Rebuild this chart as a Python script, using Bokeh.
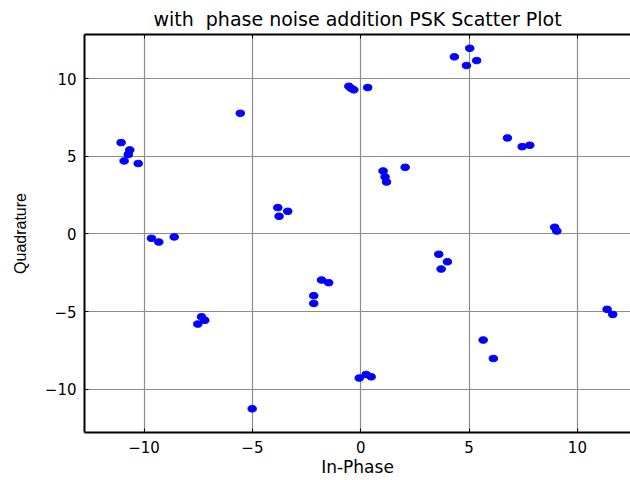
from bokeh.plotting import figure
from bokeh.models import LinearAxis, Range1d, FixedTicker, ColumnDataSource, CustomJSTickFormatter
from bokeh.embed import file_html
from bokeh.resources import INLINE

title_text = "with\u00a0 phase noise addition PSK Scatter Plot"
x_label = "In-Phase"
y_label = "Quadrature"
x_ticks = [-10, -5, 0, 5, 10]
y_ticks = [-10, -5, 0, 5, 10]

in_phase = [-5.56, -11.06, -10.66, -10.73, -10.92, -10.27, -3.83, -3.37, -3.77,
            -9.66, -9.32, -8.61, -1.81, -1.48, -2.17, -2.17, -7.35, -7.20, -7.52,
            -5.01, 5.03, 4.32, 5.35, 4.88, -0.55, -0.45, -0.32, 0.32, 6.77, 7.45,
            7.80, 1.03, 1.12, 1.19, 2.05, 8.95, 9.05, 3.60, 4.00, 3.71, 11.37,
            11.63, 5.65, 6.12, -0.07, 0.25, 0.48]
quadrature = [7.78, 5.89, 5.42, 5.12, 4.71, 4.54, 1.70, 1.46, 1.14,
              -0.28, -0.52, -0.19, -2.97, -3.14, -3.98, -4.48, -5.34, -5.57, -5.81,
              -11.27, 11.97, 11.42, 11.18, 10.86, 9.52, 9.40, 9.29, 9.44, 6.19, 5.63,
              5.72, 4.06, 3.68, 3.35, 4.30, 0.43, 0.19, -1.31, -1.79, -2.26, -4.86,
              -5.19, -6.84, -8.03, -9.29, -9.06, -9.21]

WIDE = "DejaVu Sans"
ARIAL = "Liberation Sans"

p = figure(width=630, height=480, output_backend="svg", toolbar_location=None,
           x_range=Range1d(-12.75, 12.45), y_range=Range1d(-12.8, 12.86),
           min_border_left=84, min_border_right=0, min_border_top=34,
           min_border_bottom=48, title=title_text, x_axis_label=x_label,
           y_axis_label=y_label)

p.title.text_font = WIDE
p.title.text_font_size = "19px"
p.title.text_font_style = "normal"
p.title.align = "center"
p.title.text_color = "black"

src = ColumnDataSource(dict(x=in_phase, y=quadrature))
p.ellipse(x="x", y="y", width=8.5, height=6.5, width_units="screen", height_units="screen",
          source=src, fill_color="#0000ff", line_color="#0000ff")

for ax in p.xaxis + p.yaxis:
    ax.major_label_text_font = WIDE
    ax.major_label_text_font_size = "15px"
    ax.major_label_text_color = "black"
    ax.axis_label_text_font_style = "normal"
    ax.axis_label_text_color = "black"
    ax.axis_line_color = "black"
    ax.axis_line_width = 2
    ax.major_tick_in = 4
    ax.major_tick_out = 0
    ax.major_tick_line_color = "black"
    ax.minor_tick_line_color = None

p.xaxis.axis_label_text_font = WIDE
p.xaxis.axis_label_text_font_size = "17px"
p.yaxis.axis_label_text_font = ARIAL
p.yaxis.axis_label_text_font_size = "16px"

p.xaxis.ticker = FixedTicker(ticks=x_ticks)
p.yaxis.ticker = FixedTicker(ticks=y_ticks)
p.xaxis.major_label_standoff = 8
p.xaxis.axis_label_standoff = 1
p.yaxis.major_label_standoff = 8
p.yaxis.axis_label_standoff = 13

top = LinearAxis(ticker=FixedTicker(ticks=x_ticks),
                 formatter=CustomJSTickFormatter(code="return ''"),
                 major_label_standoff=0, major_tick_in=4, major_tick_out=0,
                 axis_line_color="black", axis_line_width=2, minor_tick_line_color=None)
p.add_layout(top, "above")

p.xgrid.ticker = FixedTicker(ticks=x_ticks)
p.ygrid.ticker = FixedTicker(ticks=y_ticks)
for g in (p.xgrid, p.ygrid):
    g.grid_line_color = "#8c8c8c"
    g.grid_line_width = 1.2

p.outline_line_color = None
p.background_fill_color = "white"
p.border_fill_color = "white"

open("out.html", "w").write(file_html(p, INLINE))
